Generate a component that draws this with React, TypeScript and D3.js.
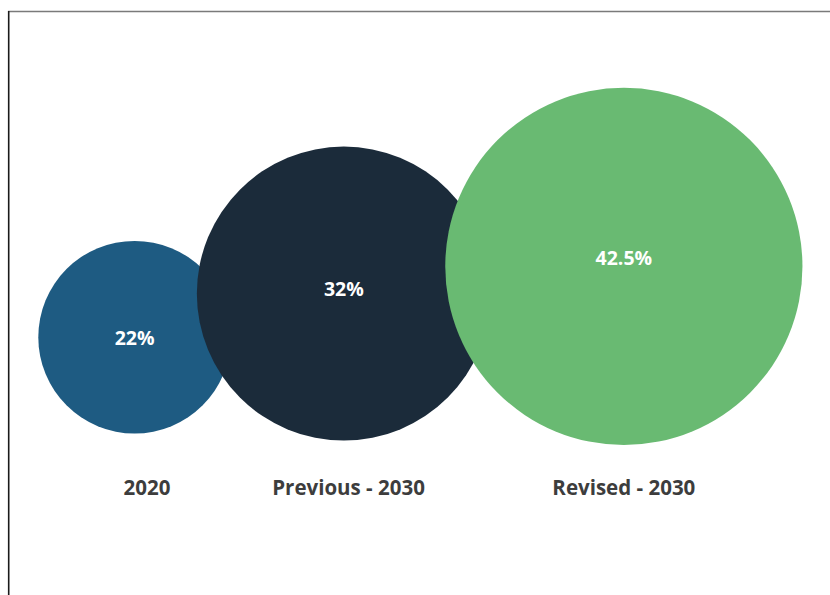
import React from "react";
import * as d3 from "d3";

const categories = ["2020", "Previous - 2030", "Revised - 2030"];
const values = [22, 32, 42.5];
const valueLabels = ["22%", "32%", "42.5%"];
const colors = ["#1e5b82", "#1b2b3a", "#69ba72"];

const W = 830;
const H = 595;

export default function App() {
  // radius scale (value -> px)
  const r = d3.scaleLinear().domain([22, 32, 42.5]).range([96.3, 147, 178.6]);
  const k = 0.86; // packing overlap factor
  const left = 38.3;
  const baseY = 420;
  const rMax = r(d3.max(values) as number);

  const nodes: { cat: string; v: number; lab: string; color: string; r: number; cx: number; cy: number }[] = [];
  categories.forEach((c, i) => {
    const rr = r(values[i]);
    let cx: number;
    if (i === 0) cx = left + rr;
    else cx = nodes[i - 1].cx + (nodes[i - 1].r + rr) * k;
    nodes.push({ cat: c, v: values[i], lab: valueLabels[i], color: colors[i], r: rr, cx, cy: baseY - k * rr });
  });

  const font = "'Open Sans', 'Noto Sans', sans-serif";

  return (
    <svg width={W} height={H} style={{ position: "absolute", left: 0, top: 0, background: "#fff" }}>
      <rect x={0} y={0} width={W} height={H} fill="#fff" />
      <line x1={8} x2={W} y1={11.5} y2={11.5} stroke="#7a7a7a" strokeWidth={1.5} />
      <line x1={8.7} x2={8.7} y1={11} y2={H} stroke="#1a1a1a" strokeWidth={1.6} />
      {nodes.map((n) => (
        <circle key={n.cat} cx={n.cx} cy={n.cy} r={n.r} fill={n.color} />
      ))}
      {nodes.map((n) => (
        <text
          key={n.cat + "v"}
          x={n.cx}
          y={439 - 0.975 * n.r}
          textAnchor="middle"
          fill="#fff"
          fontFamily={font}
          fontWeight={700}
          fontSize={19.5}
        >
          {n.lab}
        </text>
      ))}
      {nodes.map((n) => (
        <text
          key={n.cat + "c"}
          x={n.cx + 0.15 * (rMax - n.r)}
          y={495}
          textAnchor="middle"
          fill="#3d3d3d"
          fontFamily={font}
          fontWeight={700}
          fontSize={20.5}
        >
          {n.cat}
        </text>
      ))}
    </svg>
  );
}
